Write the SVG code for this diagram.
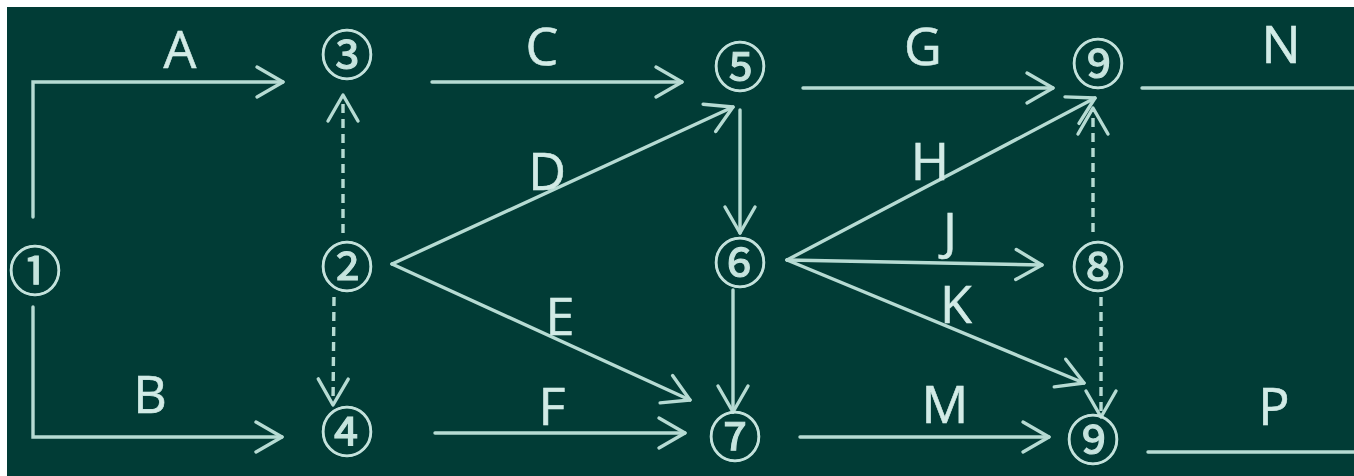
<svg xmlns="http://www.w3.org/2000/svg" width="1354" height="476" viewBox="0 0 1354 476">
<style>
.bg{fill:#013c36}
.ln{fill:none;stroke:#b6dbd3;stroke-width:3.4;stroke-linecap:round}
.dash{stroke-dasharray:9 6;stroke-linecap:butt}
.lbl{font-family:"Open Sans","Liberation Sans",sans-serif;font-size:52px;fill:#d2ebe6;text-anchor:middle;stroke:#d2ebe6;stroke-width:0.6}
.nd{font-family:"Noto Sans CJK SC","DejaVu Sans",sans-serif;font-size:53px;fill:#c6e4de;text-anchor:middle;dominant-baseline:central;stroke:#c6e4de;stroke-width:1.1}
</style>
<defs>
<marker id="ah" markerUnits="userSpaceOnUse" viewBox="-32 -20 40 40" markerWidth="40" markerHeight="40" refX="0" refY="0" orient="auto" overflow="visible">
<path d="M-26,-15 L0,0 L-26,15" fill="none" stroke="#b6dbd3" stroke-width="3.4" stroke-linecap="round" stroke-linejoin="round" stroke-dasharray="none"/>
</marker>
</defs>
<rect x="0" y="0" width="1354" height="476" fill="#ffffff"/>
<rect class="bg" x="7" y="7" width="1347" height="469"/>
<g id="connectors">
<path id="eA" class="ln" d="M33,217 V82 H283" marker-end="url(#ah)"/>
<path id="eB" class="ln" d="M33,307 V437 H282" marker-end="url(#ah)"/>
<path id="e23" class="ln dash" d="M343,233 V95" marker-end="url(#ah)"/>
<path id="e24" class="ln dash" d="M334,297 L333,405" marker-end="url(#ah)"/>
<path id="eC" class="ln" d="M432,82 H682" marker-end="url(#ah)"/>
<path id="eD" class="ln" d="M392,264 L733,107" marker-end="url(#ah)"/>
<path id="eE" class="ln" d="M392,264 L690,400" marker-end="url(#ah)"/>
<path id="eF" class="ln" d="M435,433 H685" marker-end="url(#ah)"/>
<path id="e56" class="ln" d="M740,110 V233" marker-end="url(#ah)"/>
<path id="e67" class="ln" d="M733,290 V412" marker-end="url(#ah)"/>
<path id="eG" class="ln" d="M803,88 H1053" marker-end="url(#ah)"/>
<path id="eH" class="ln" d="M787,260 L1095,98" marker-end="url(#ah)"/>
<path id="eJ" class="ln" d="M787,260 L1042,265" marker-end="url(#ah)"/>
<path id="eK" class="ln" d="M787,260 L1084,383" marker-end="url(#ah)"/>
<path id="eM" class="ln" d="M800,437 H1049" marker-end="url(#ah)"/>
<path id="eN" class="ln" d="M1142,88 H1354"/>
<path id="eP" class="ln" d="M1148,452 H1354"/>
<path id="e89a" class="ln dash" d="M1093,232 V108" marker-end="url(#ah)"/>
<path id="e89b" class="ln dash" d="M1101,297 V417" marker-end="url(#ah)"/>
</g>
<g id="labels">
<text class="lbl" x="180" y="68">A</text>
<text class="lbl" x="150" y="413">B</text>
<text class="lbl" x="542" y="65">C</text>
<text class="lbl" x="547" y="190">D</text>
<text class="lbl" x="560" y="335">E</text>
<text class="lbl" x="552" y="425">F</text>
<text class="lbl" x="923" y="65">G</text>
<text class="lbl" x="930" y="180">H</text>
<text class="lbl" x="950" y="250">J</text>
<text class="lbl" x="956" y="323">K</text>
<text class="lbl" x="945" y="423">M</text>
<text class="lbl" x="1281" y="63">N</text>
<text class="lbl" x="1274" y="425">P</text>
</g>
<g id="n1"><text class="nd" x="35" y="268">①</text></g>
<g id="n2"><text class="nd" x="347" y="264">②</text></g>
<g id="n3"><text class="nd" x="347" y="52">③</text></g>
<g id="n4"><text class="nd" x="347" y="429">④</text></g>
<g id="n5"><text class="nd" x="740" y="64">⑤</text></g>
<g id="n6"><text class="nd" x="740" y="260">⑥</text></g>
<g id="n7"><text class="nd" x="735" y="434">⑦</text></g>
<g id="n9a"><text class="nd" x="1098" y="61">⑨</text></g>
<g id="n8"><text class="nd" x="1098" y="264">⑧</text></g>
<g id="n9b"><text class="nd" x="1093" y="437">⑨</text></g>
</svg>
